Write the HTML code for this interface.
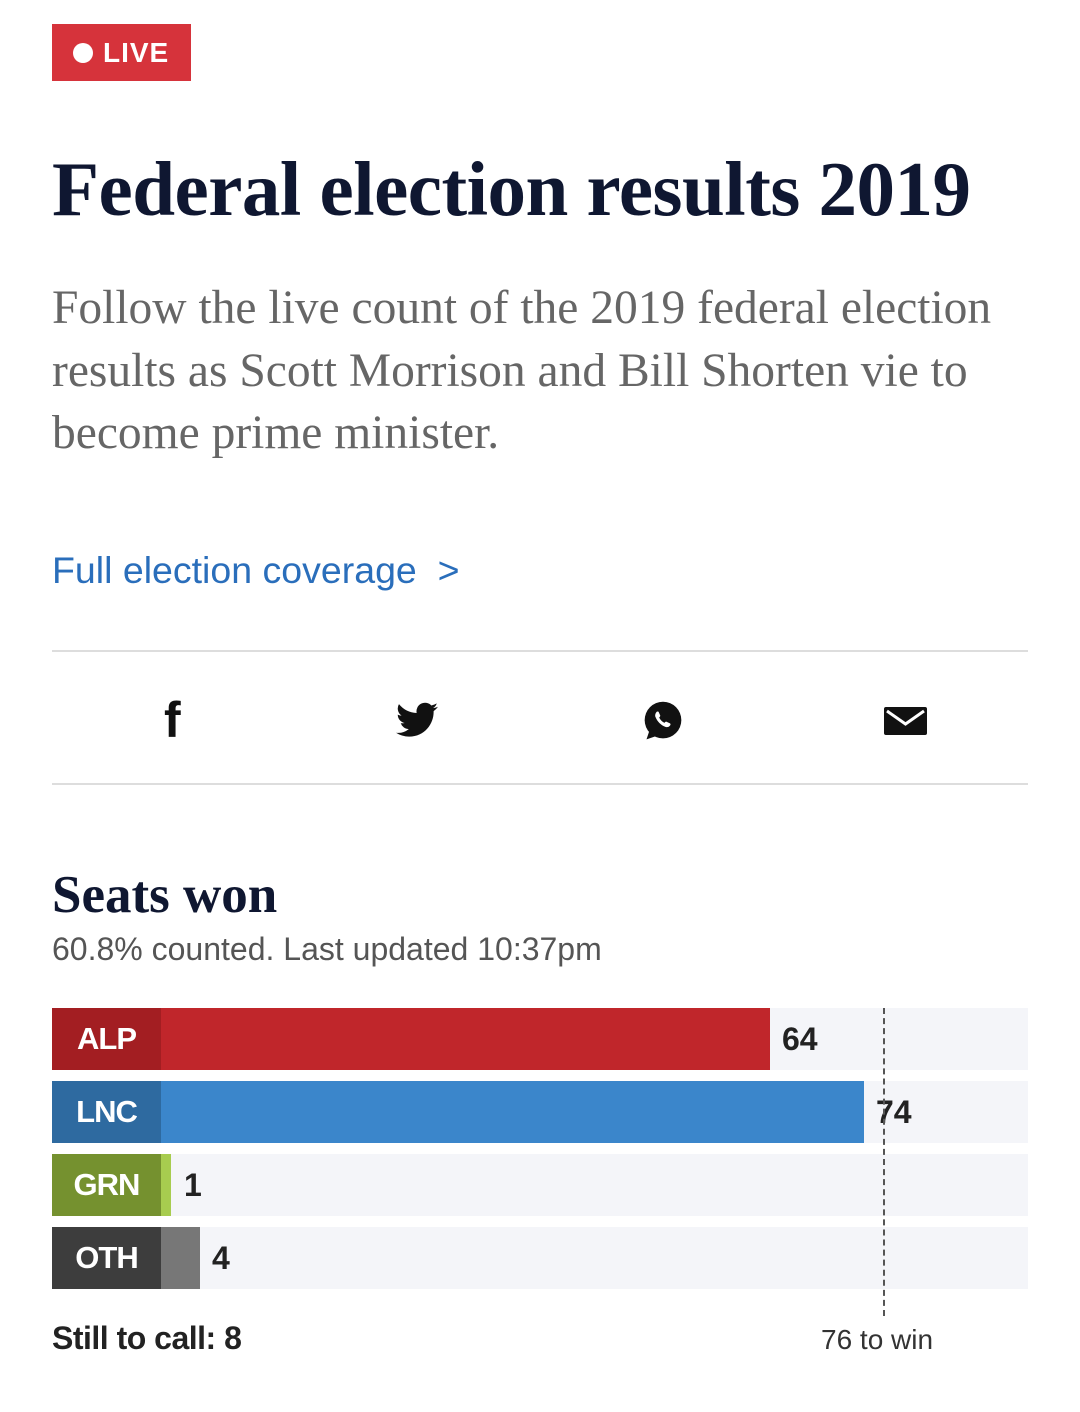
<!DOCTYPE html>
<html><head><style>
body{margin:0;width:1080px;height:1412px;background:#fff;position:relative;overflow:hidden;font-family:"Liberation Sans",sans-serif}
.a{position:absolute;white-space:nowrap}
.row{position:absolute;left:52px;width:976px;height:62px;background:#f4f5f9}
.lab{position:absolute;left:0;top:0;width:109px;height:62px;color:#fff;font-weight:bold;font-size:31px;line-height:62px;text-align:center;letter-spacing:-1px}
.bar{position:absolute;left:109px;top:0;height:62px}
.num{position:absolute;top:0;line-height:62px;font-size:32px;font-weight:bold;color:#222}
</style></head><body>
<div class="a" style="left:52px;top:24px;width:139px;height:57px;background:#d6333b"></div>
<div class="a" style="left:73px;top:43px;width:20px;height:20px;border-radius:50%;background:#fff"></div>
<div class="a" style="left:103px;top:35px;font-size:28px;font-weight:bold;color:#fff;line-height:36px;letter-spacing:1px">LIVE</div>
<div class="a" style="left:52px;top:144px;font-family:'Liberation Serif',serif;font-weight:bold;font-size:77px;color:#0f1731;line-height:90px;letter-spacing:-0.5px">Federal election results 2019</div>
<div class="a" style="left:52px;top:277px;font-family:'Liberation Serif',serif;font-size:47.5px;color:#666;line-height:62.5px">Follow the live count of the 2019 federal election<br>results as Scott Morrison and Bill Shorten vie to<br>become prime minister.</div>
<div class="a" style="left:52px;top:546px;font-size:37.5px;color:#2a6ebb;line-height:48px">Full election coverage &nbsp;&gt;</div>
<div class="a" style="left:52px;top:650px;width:976px;height:2px;background:#ddd"></div>
<div class="a" style="left:52px;top:783px;width:976px;height:2px;background:#ddd"></div>
<div class="a" style="left:164px;top:694px;font-size:50px;font-weight:bold;color:#111;line-height:52px">f</div>
<svg class="a" style="left:396px;top:702px" width="42" height="36" viewBox="0 0 24 20"><path fill="#111" d="M24 2.4a10 10 0 0 1-2.8.8A5 5 0 0 0 23.3.5a10 10 0 0 1-3.1 1.2A4.9 4.9 0 0 0 11.8 6 14 14 0 0 1 1.7.9a4.9 4.9 0 0 0 1.500 6.6A4.9 4.9 0 0 1 1 6.9a4.9 4.9 0 0 0 3.9 4.8 5 5 0 0 1-2.2.1 4.9 4.9 0 0 0 4.6 3.4A9.9 9.9 0 0 1 0 17.3 14 14 0 0 0 7.5 19.5c9 0 14-7.5 14-14v-.6A10 10 0 0 0 24 2.4z"/></svg>
<svg class="a" style="left:641px;top:699px" width="44" height="44" viewBox="0 0 24 24"><circle cx="12" cy="11.5" r="10" fill="#111"/><path d="M3 22l2-6 4 4z" fill="#111"/><path fill="#fff" d="M8.5 7c.4-.3 1-.3 1.2.2l.8 1.8c.1.4-.3.8-.6 1.1.6 1.3 1.6 2.3 2.9 2.9.3-.3.7-.8 1.1-.6l1.8.8c.5.2.5.8.2 1.2-.6.9-1.6 1.200-2.6.8-2.500-1-4.400-2.900-5.400-5.400-.4-1 0-2 .6-2.8z"/></svg>
<svg class="a" style="left:884px;top:707px" width="43" height="28" viewBox="0 0 43 28"><rect width="43" height="28" rx="2" fill="#111"/><path d="M3 4l18.5 13L40 4" stroke="#fff" stroke-width="3" fill="none"/></svg>
<div class="a" style="left:52px;top:864px;font-family:'Liberation Serif',serif;font-weight:bold;font-size:53px;color:#0f1731;line-height:62px">Seats won</div>
<div class="a" style="left:52px;top:929px;font-size:32px;color:#555;line-height:40px">60.8% counted. Last updated 10:37pm</div>
<div class="row" style="top:1008px"><div class="bar" style="width:609px;background:#c0262b"></div><div class="lab" style="background:#a31e22">ALP</div><div class="num" style="left:730px">64</div></div>
<div class="row" style="top:1081px"><div class="bar" style="width:703px;background:#3b86cb"></div><div class="lab" style="background:#2e6aa0">LNC</div><div class="num" style="left:824px">74</div></div>
<div class="row" style="top:1154px"><div class="bar" style="width:10px;background:#a7cc4f"></div><div class="lab" style="background:#75912f">GRN</div><div class="num" style="left:132px">1</div></div>
<div class="row" style="top:1227px"><div class="bar" style="width:39px;background:#777"></div><div class="lab" style="background:#3d3d3d">OTH</div><div class="num" style="left:160px">4</div></div>
<div class="a" style="left:883px;top:1008px;height:308px;border-left:2px dashed #555"></div>
<div class="a" style="left:52px;top:1318px;font-size:32px;font-weight:bold;color:#222;line-height:40px;letter-spacing:-0.5px">Still to call: 8</div>
<div class="a" style="left:821px;top:1322px;font-size:28px;color:#333;line-height:36px">76 to win</div>
</body></html>
